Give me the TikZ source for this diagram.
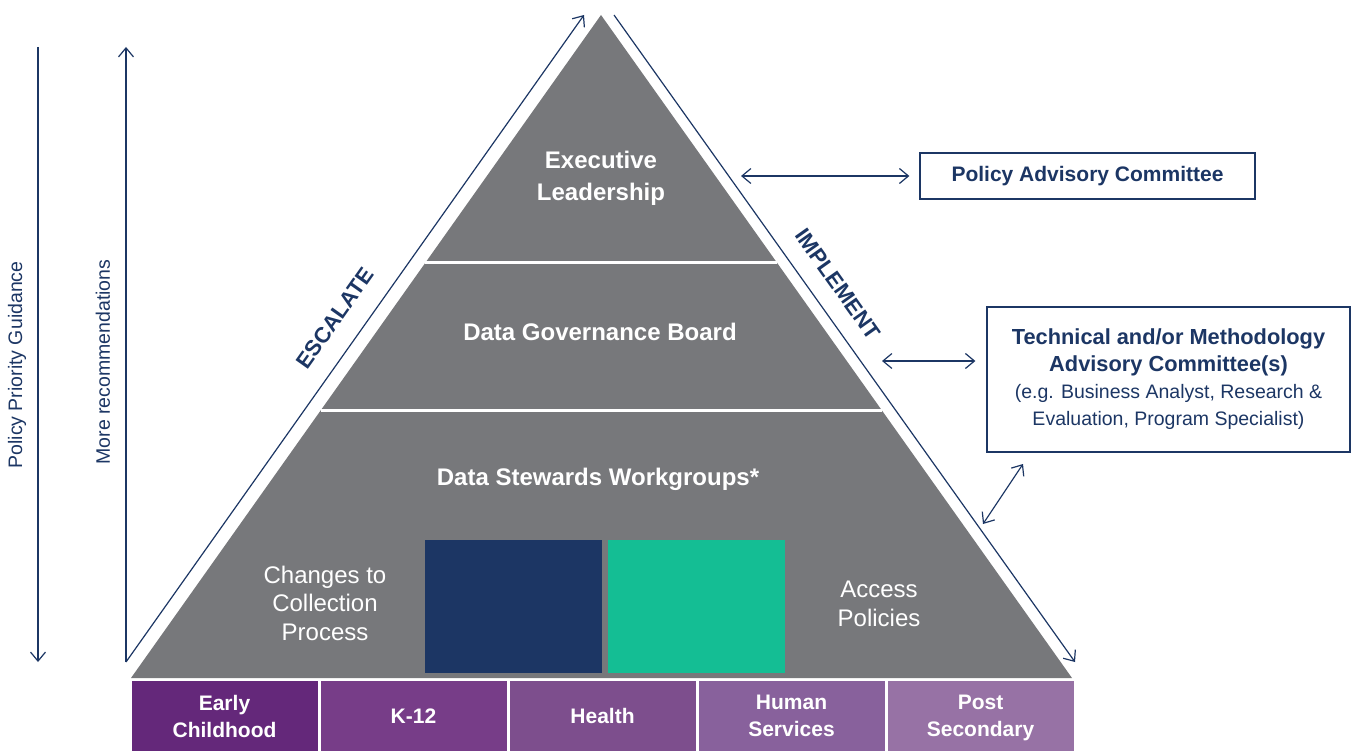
\documentclass[tikz,border=0pt]{standalone}
\usepackage{fontspec}
\setmainfont{Liberation Sans}
\usetikzlibrary{positioning,calc,arrows.meta}
\definecolor{navy}{HTML}{1C3664}
\definecolor{pyr}{HTML}{77787B}
\definecolor{stewgreen}{HTML}{14BE94}
\definecolor{sec1}{HTML}{64287A}
\definecolor{sec2}{HTML}{773D88}
\definecolor{sec3}{HTML}{7D4E8D}
\definecolor{sec4}{HTML}{88619C}
\definecolor{sec5}{HTML}{9772A5}
\begin{document}
\begin{tikzpicture}[x=1pt,y=-1pt,
  >={Straight Barb[length=9pt,width=15pt]},
  sector/.style = {minimum width=186pt, minimum height=70pt, inner sep=0pt, text depth=0pt, text=white, align=center, font=\fontsize{21}{27}\selectfont\bfseries},
  level/.style = {text=white, align=center, font=\fontsize{24}{32}\selectfont\bfseries},
  side/.style = {text=white, align=center, font=\fontsize{24}{28.5}\selectfont},
  advbox/.style = {draw=navy, line width=1.3pt, text=navy, align=center, inner sep=0pt},
  guide/.style = {draw=navy, line width=1.2pt},
  lab/.style = {text=navy, font=\fontsize{19.5}{24}\selectfont},
  edge/.style = {text=navy, font=\fontsize{22}{26}\selectfont\bfseries},
  node distance={189pt}]
\useasboundingbox (0,0) rectangle (1356,751);

% pyramid
\coordinate (apex) at (601,15);
\coordinate (bl) at (131,678);
\coordinate (br) at (1072,678);
\fill[pyr] (apex) -- (bl) -- (br) -- cycle;
\draw[white, line width=3pt] ($(apex)!0.374!(bl)$) -- ($(apex)!0.374!(br)$);
\draw[white, line width=3pt] ($(apex)!0.5958!(bl)$) -- ($(apex)!0.5958!(br)$);
\fill[navy] (425,540) rectangle (602,673);
\fill[stewgreen] (608,540) rectangle (785,673);

\node[level] (exec) at (601,178) {Executive\\Leadership};
\node[level] (dgb) at (600,332) {Data Governance Board};
\node[level] (dsw) at (598,479) {Data Stewards Workgroups*};
\node[side] (changes) at (325,603) {Changes to\\Collection\\Process};
\node[side] (access) at (879,604) {Access\\Policies};

% sectors
\node[sector, fill=sec1] (early) at (224.5,716) {Early\\Childhood};
\node[sector, fill=sec2] (k12) [right of=early] {K-12};
\node[sector, fill=sec3] (health) [right of=k12] {Health};
\node[sector, fill=sec4] (human) [right of=health] {Human\\Services};
\node[sector, fill=sec5] (post) [right of=human] {Post\\Secondary};

% escalate / implement
\coordinate (escS) at (126,662);
\coordinate (escE) at (584,15);
\draw[guide,->] (escS) -- (escE);
\coordinate (impS) at (614,15);
\coordinate (impE) at (1075,662);
\draw[guide,->] (impS) -- (impE);
\node[edge, rotate=54.7] (esc) at (335,318) {ESCALATE};
\node[edge, rotate=-54.6] (imp) at (838,284) {IMPLEMENT};

% left guides
\coordinate (recS) at (126,662);
\coordinate (recE) at (126,47);
\draw[guide,->] (recS) -- (recE);
\coordinate (polS) at (38,47);
\coordinate (polE) at (38,662);
\draw[guide,->] (polS) -- (polE);
\node[lab, rotate=90] (pollab) at (17,365) {Policy Priority Guidance};
\node[lab, rotate=90] (reclab) at (103,362) {More recommendations};

% committees
\node[advbox, minimum width=335pt, minimum height=46pt, font=\fontsize{21}{25}\selectfont\bfseries] (pac) at (1087.5,176) {Policy Advisory Committee};
\node[advbox, minimum width=363pt, minimum height=145pt, font=\fontsize{19.5}{27}\selectfont] (tac) at (1168.5,379.5)
  {\bfseries\fontsize{21.8}{27}\selectfont Technical and/or Methodology\\
   \bfseries\fontsize{21.8}{27}\selectfont Advisory Committee(s)\\
   (e.g. Business Analyst, Research \&\\
   Evaluation, Program Specialist)};
\coordinate (pacA) at (741,176);
\draw[guide,<->] (pacA) -- ([xshift=-10pt]pac.west);
\coordinate (tacA) at (882,361);
\draw[guide,<->] (tacA) -- ($(tac.west |- tacA)+(-11,0)$);
\coordinate (dsA) at (983,524);
\coordinate (dsB) at (1023,464);
\draw[guide,<->] (dsA) -- (dsB);
\end{tikzpicture}
\end{document}
